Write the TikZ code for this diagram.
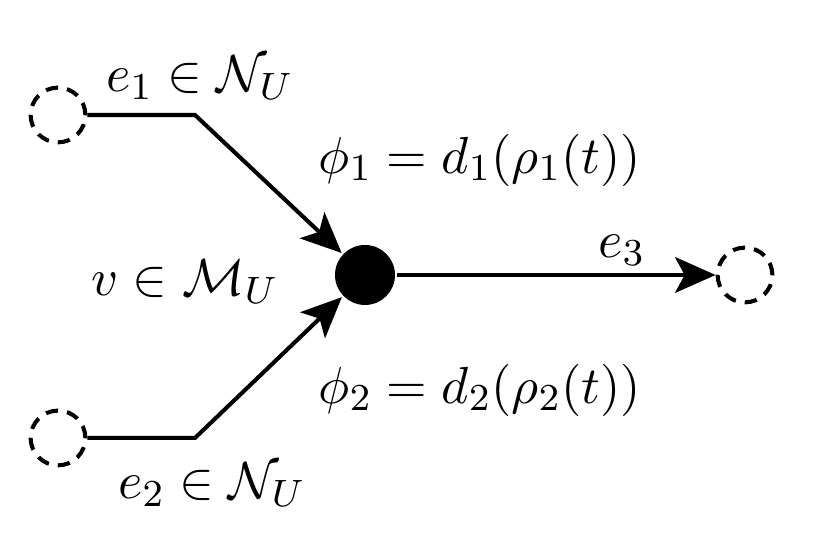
\documentclass[tikz,border=0pt]{standalone}
\usepackage{amsmath,amssymb}
\usetikzlibrary{arrows.meta}
\tikzset{every picture/.style={line width=0.85pt}}
\begin{document}
\begin{tikzpicture}[x=0.21pt,y=0.21pt,yscale=-1,xscale=1,
  every node/.append style={font=\fontsize{11.3}{13}\selectfont},
  port/.style={circle,draw,dashed,dash pattern={on 2.6pt off 1.9pt},minimum size=11.5pt,inner sep=0pt},
  junc/.style={circle,fill=black,minimum size=12.6pt,inner sep=0pt},
  flow/.style={-{Stealth[length=8.5pt,width=7.5pt,inset=2pt]}}]
\useasboundingbox (0,0) rectangle (828,548);

% nodes
\node [port] (in1) at (58,115) {};
\node [port] (in2) at (58,438) {};
\node [port] (out) at (745,275) {};
\node [junc] (v) at (365,275) {};
\coordinate (k1) at (195,115);
\coordinate (k2) at (195,438);

% edges
\draw [flow] (in1) -- (k1) -- (v);
\draw [flow] (in2) -- (k2) -- (v);
\draw [flow] (v) -- (out);

% labels
\node at (200,78) {$e_1 \in \mathcal{N}_U$};
\node at (480,160) {$\phi_1 = d_1(\rho_1(t))$};
\node at (185,282) {$v \in \mathcal{M}_U$};
\node at (622,250) {$e_3$};
\node at (480,390) {$\phi_2 = d_2(\rho_2(t))$};
\node at (212,485) {$e_2 \in \mathcal{N}_U$};
\end{tikzpicture}
\end{document}
